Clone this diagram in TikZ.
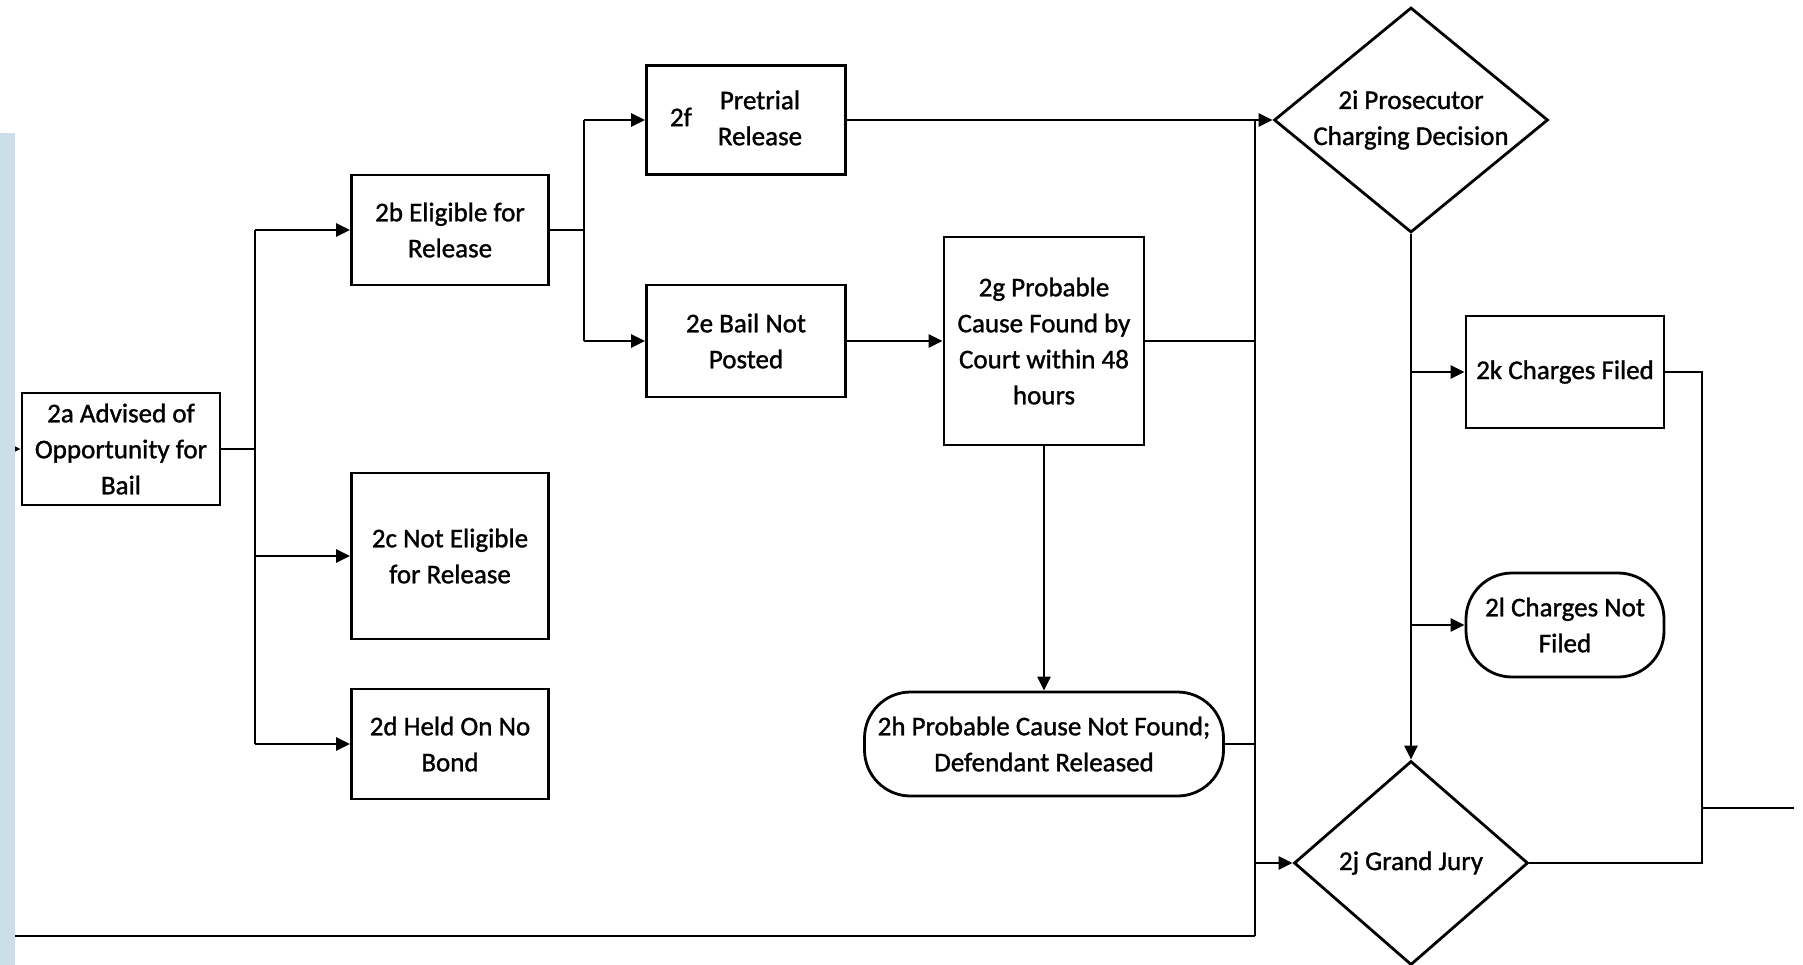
\documentclass[tikz,border=0pt]{standalone}
\usepackage{fontspec}
\setmainfont{Carlito}[FakeBold=1.2]
\usetikzlibrary{arrows.meta,shapes.geometric}
\definecolor{stripblue}{RGB}{204,222,234}

\begin{document}
\begin{tikzpicture}[x=1pt,y=-1pt,line width=2.8pt,
    every node/.style={font=\fontsize{27}{36}\selectfont, align=center},
    box/.style={rectangle, draw, fill=white, inner sep=2pt},
    endbox/.style={rectangle, draw, fill=white, rounded corners=46pt, inner sep=2pt},
    choice/.style={diamond, draw, fill=white},
    arr/.style={-{Triangle[length=14pt,width=13pt]}}]
    \useasboundingbox (0,0) rectangle (1803,965);

    % Draw nodes
    \node[box, minimum width=198pt, minimum height=112pt] (2a) at (121,449) {2a Advised of\\Opportunity for\\Bail};
    \node[box, minimum width=197pt, minimum height=110pt] (2b) at (450,230) {2b Eligible for\\Release};
    \node[box, minimum width=197pt, minimum height=166pt] (2c) at (450,556) {2c Not Eligible\\for Release};
    \node[box, minimum width=197pt, minimum height=110pt] (2d) at (450,744) {2d Held On No\\Bond};
    \node[box, minimum width=199pt, minimum height=109pt] (2f) at (746,120) {2f\hspace{26pt}\begin{tabular}{@{}c@{}}Pretrial\\Release\end{tabular}\hspace{20pt}};
    \node[box, minimum width=199pt, minimum height=112pt] (2e) at (746,341) {2e Bail Not\\Posted};
    \node[box, minimum width=200pt, minimum height=208pt] (2g) at (1044,341) {2g Probable\\Cause Found by\\Court within 48\\hours};
    \node[endbox, minimum width=359pt, minimum height=104pt] (2h) at (1044,744) {2h Probable Cause Not Found;\\Defendant Released};
    \node[choice, inner sep=-12pt, minimum width=274pt, minimum height=225pt] (2i) at (1411,120) {2i Prosecutor\\Charging Decision};
    \node[choice, inner sep=0pt, minimum width=234pt, minimum height=204pt] (2j) at (1411,863) {2j Grand Jury};
    \node[box, minimum width=198pt, minimum height=112pt] (2k) at (1565,372) {2k Charges Filed};
    \node[endbox, minimum width=198pt, minimum height=104pt] (2l) at (1565,625) {2l Charges Not\\Filed};

    % Junction points
    \coordinate (in) at (8,449);
    \coordinate (t1) at (255,230);
    \coordinate (t2) at (255,744);
    \coordinate (s1) at (584,120);
    \coordinate (s2) at (584,341);
    \coordinate (busT) at (1255,120);
    \coordinate (busB) at (1255,936);
    \coordinate (out) at (15,936);
    \coordinate (r1) at (1411,372);
    \coordinate (r2) at (1411,625);
    \coordinate (m1) at (1702,372);
    \coordinate (m2) at (1702,863);
    \coordinate (m3) at (1702,808);
    \coordinate (exit) at (1794,808);

    % Draw connections
    \draw[arr] (in) -- (2a);
    \draw (2a.east) -- (2a.east -| t1);
    \draw (t1) -- (t2);
    \draw[arr] (t1) -- (2b);
    \draw[arr] (t1 |- 2c) -- (2c);
    \draw[arr] (t2) -- (2d);
    \draw (2b.east) -- (2b.east -| s1);
    \draw (s1) -- (s2);
    \draw[arr] (s1) -- (2f);
    \draw[arr] (s2) -- (2e);
    \draw[arr] (2e) -- (2g);
    \draw[arr] (2g) -- (2h);
    \draw (2g.east) -- (2g.east -| busT);
    \draw (2h.east) -- (2h.east -| busT);
    \draw (busT) -- (busB);
    \draw (out) -- (busB);
    \draw[arr] (2f) -- (2i);
    \draw[arr] (busT |- 2j) -- (2j);
    \draw[arr] (2i) -- (2j);
    \draw[arr] (r1) -- (2k);
    \draw[arr] (r2) -- (2l);
    \draw (2k) -- (m1) -- (m2) -- (2j);
    \draw (m3) -- (exit);

    % Side strip
    \fill[stripblue] (0,133) rectangle (15,965);
\end{tikzpicture}
\end{document}
